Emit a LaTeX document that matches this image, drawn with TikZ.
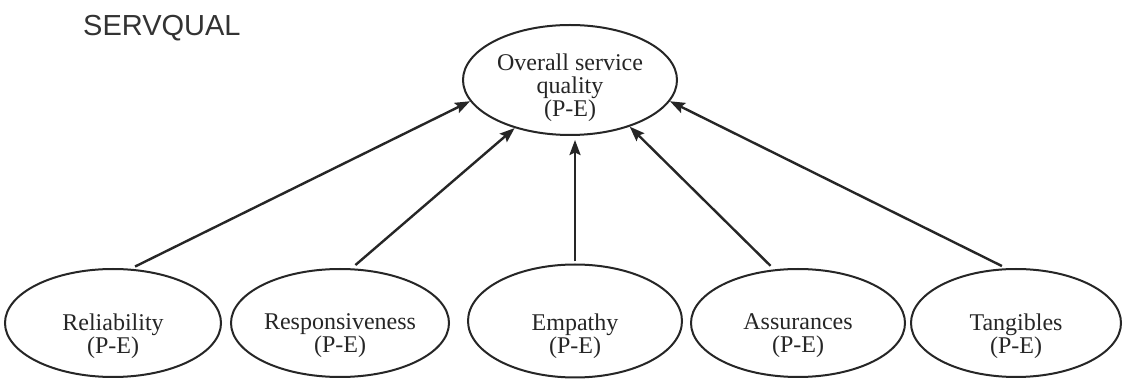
\documentclass[tikz,border=0pt]{standalone}
\usepackage{fontspec}
\setmainfont{Liberation Serif}
\newfontfamily\servsans{Liberation Sans}
\usetikzlibrary{shapes.geometric,arrows.meta}
\begin{document}
\begin{tikzpicture}[x=1pt,y=1pt,
  oval/.style={ellipse,draw=black!85,line width=2pt,inner sep=0pt},
  lbl/.style={font=\fontsize{24}{23}\selectfont,align=center,inner sep=0pt,text=black!85},
  arr/.style={line width=2.4pt,draw=black!85,-{Stealth[length=15pt,width=11pt,inset=2.5pt]},shorten <=5pt}]
\useasboundingbox (0,0) rectangle (1125,380);
\fill[white] (0,0) rectangle (1125,380);
\node[anchor=base west,inner sep=0pt,font=\servsans\fontsize{29}{29}\selectfont,text=black!80] (title) at (83,344) {SERVQUAL};
% top
\node[oval,minimum width=214pt,minimum height=110pt] (top) at (570,300) {};
\node[lbl] (toptxt) at (570,292) {Overall service\\quality\\(P-E)};
% bottom ellipses
\node[oval,minimum width=216pt,minimum height=108pt] (rel) at (113,57) {};
\node[lbl] (reltxt) at (113,44) {Reliability\\(P-E)};
\node[oval,minimum width=218pt,minimum height=108pt] (resp) at (340,57) {};
\node[lbl] (resptxt) at (340,44) {Responsiveness\\(P-E)};
\node[oval,minimum width=214pt,minimum height=113pt] (emp) at (575,59) {};
\node[lbl] (emptxt) at (575,44) {Empathy\\(P-E)};
\node[oval,minimum width=214pt,minimum height=108pt] (ass) at (798,57) {};
\node[lbl] (asstxt) at (798,44) {Assurances\\(P-E)};
\node[oval,minimum width=210pt,minimum height=108pt] (tan) at (1016,57) {};
\node[lbl] (tantxt) at (1016,44) {Tangibles\\(P-E)};
% arrows
\draw[arr] (rel.72) -- (top.192.6);
\draw[arr] (resp.78) -- (top.221.9);
\draw[arr,shorten <=2pt,shorten >=4pt] (emp.north) -- (emp.north |- top.south);
\draw[arr] (ass.114) -- (top.322.1);
\draw[arr] (tan.100) -- (top.348.4);
\end{tikzpicture}
\end{document}
